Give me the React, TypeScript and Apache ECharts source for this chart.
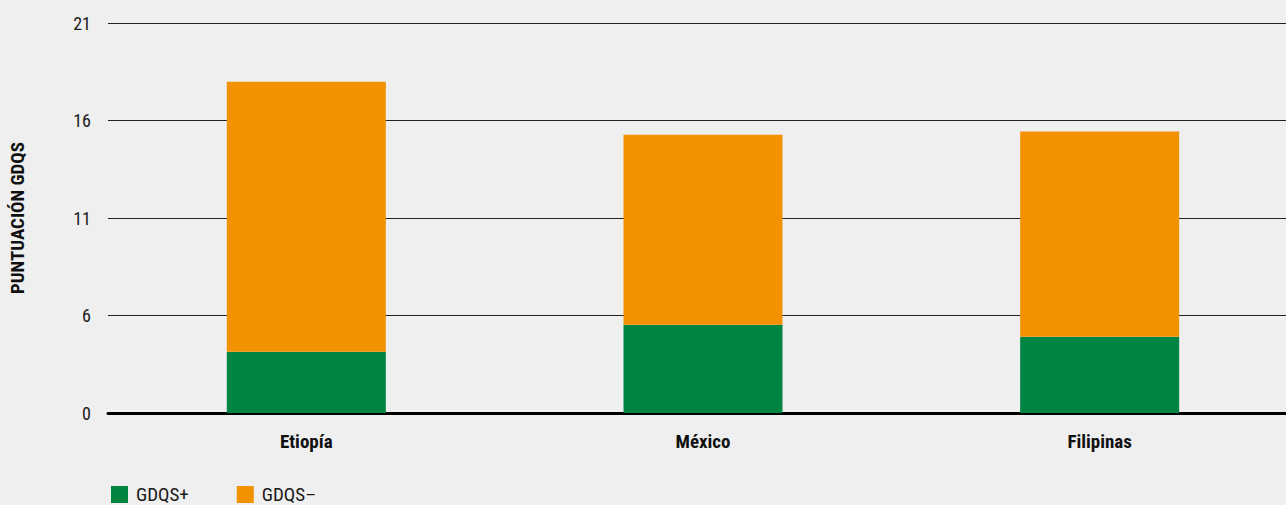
import React, { useEffect, useRef } from "react";
import * as echarts from "echarts";

const categories = ["Etiopía", "México", "Filipinas"];
const gdqsPlus = [3.14, 4.53, 3.91];
const gdqsMinus = [13.85, 9.74, 10.52];
const yTickLabels = ["0", "6", "11", "16", "21"];

const FONT = '"Roboto Condensed", "Liberation Sans Narrow", Roboto, sans-serif';

export default function App() {
  const ref = useRef<HTMLDivElement>(null);
  useEffect(() => {
    if (!ref.current) return;
    const chart = echarts.init(ref.current, null, { renderer: "svg" });
    chart.setOption({
      animation: false,
      backgroundColor: "#efefef",
      textStyle: { fontFamily: FONT },
      grid: { left: 108, top: 23, right: 0, bottom: 92, containLabel: false },
      legend: {
        left: 111,
        top: 485,
        padding: 0,
        itemWidth: 17,
        itemHeight: 17,
        itemGap: 48,
        icon: "rect",
        textStyle: {
          fontFamily: FONT,
          fontSize: 19,
          color: "#1a1a1a",
          padding: [0, 0, 0, 3],
        },
        data: ["GDQS+", "GDQS–"],
      },
      xAxis: {
        type: "category",
        data: categories,
        axisLine: { show: true, lineStyle: { color: "#000", width: 3 } },
        axisTick: { show: false },
        axisLabel: {
          margin: 19,
          fontSize: 19,
          fontWeight: "bold",
          color: "#111",
          fontFamily: FONT,
        },
      },
      yAxis: {
        type: "value",
        min: 0,
        max: 20,
        interval: 5,
        name: "PUNTUACIÓN GDQS",
        nameLocation: "middle",
        nameRotate: 90,
        nameGap: 81,
        nameTextStyle: {
          fontSize: 19,
          fontWeight: "bold",
          color: "#111",
          fontFamily: FONT,
        },
        axisLine: { show: false },
        axisTick: { show: false },
        splitLine: { lineStyle: { color: "#222", width: 1.2 } },
        axisLabel: {
          margin: 17,
          fontSize: 18,
          color: "#1a1a1a",
          fontFamily: FONT,
          formatter: (v: number) => yTickLabels[Math.round(v / 5)] ?? "",
        },
      },
      series: [
        {
          name: "GDQS+",
          type: "bar",
          stack: "total",
          barWidth: 159,
          data: gdqsPlus,
          itemStyle: { color: "#008442" },
        },
        {
          name: "GDQS–",
          type: "bar",
          stack: "total",
          barWidth: 159,
          data: gdqsMinus,
          itemStyle: { color: "#f39200" },
        },
      ],
    });
    return () => chart.dispose();
  }, []);
  return (
    <div
      style={{
        position: "absolute",
        left: 0,
        top: 0,
        width: 1286,
        height: 505,
        overflow: "hidden",
        background: "#efefef",
      }}
    >
      <div ref={ref} style={{ width: 1298, height: 505 }} />
    </div>
  );
}
